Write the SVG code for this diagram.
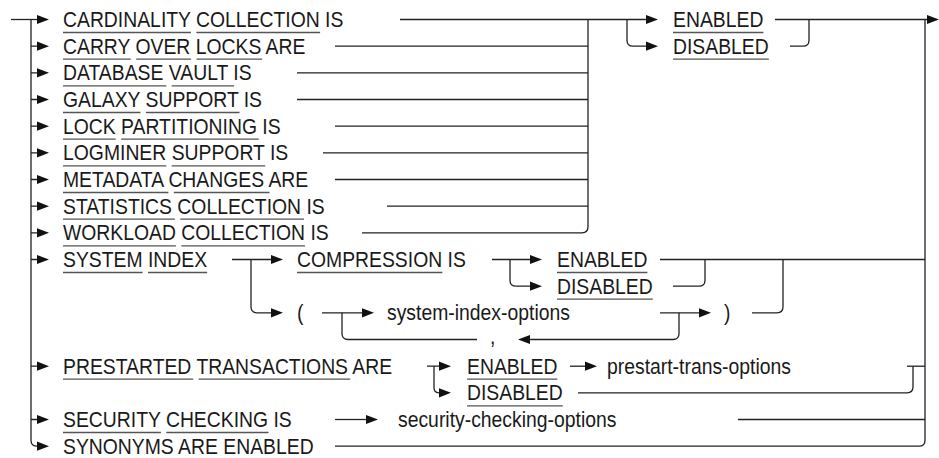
<svg xmlns="http://www.w3.org/2000/svg" xmlns:xlink="http://www.w3.org/1999/xlink" width="939" height="458" viewBox="0 0 939 458">
<style>
text{font-family:"Liberation Sans",Arial,sans-serif;font-size:22px;fill:#1a1a1a}
.c{fill:none;stroke:#222;stroke-width:1.3}
.u{stroke:#555;stroke-width:1.3}
.ah{fill:#111}
</style>
<defs>
<path id="ar" d="M0,-4.6 L12,0 L0,4.6 Z"/>
<path id="al" d="M12,-4.6 L0,0 L12,4.6 Z"/>
</defs>
<rect width="939" height="458" fill="#fff"/>
<g id="connectors">
<path class="c" d="M11,19.5 H37"/>
<path class="c" d="M31,19.5 V440.2 Q31,446.2 37,446.2"/>
<path class="c" d="M31,46.2 H37 M31,72.8 H37 M31,99.5 H37 M31,126.2 H37 M31,152.8 H37 M31,179.5 H37 M31,206.2 H37 M31,232.8 H37 M31,259.5 H37 M31,366.2 H37 M31,419.5 H37"/>
<path class="c" d="M400,19.5 H646 M335,46.2 H588 M297,72.8 H588 M297,99.5 H588 M335,126.2 H588 M323,152.8 H588 M335,179.5 H588 M387,206.2 H588 M362,232.8 H582 Q588,232.8 588,226.8 V19.5"/>
<path class="c" d="M627,19.5 V40.2 Q627,46.2 633,46.2 H646"/>
<path class="c" d="M775,19.5 H927"/>
<path class="c" d="M790,46.2 H803 Q809,46.2 809,40.2 V19.5"/>
<path class="c" d="M925,19.5 V440.2 Q925,446.2 919,446.2 H335"/>
<path class="c" d="M232,259.5 H271 M251,259.5 V306.8 Q251,312.8 257,312.8 H271"/>
<path class="c" d="M492,259.5 H530 M510,259.5 V280.2 Q510,286.2 516,286.2 H530"/>
<path class="c" d="M660,259.5 H925"/>
<path class="c" d="M673,286.2 H699 Q705,286.2 705,280.2 V259.5"/>
<path class="c" d="M322,312.8 H362"/>
<path class="c" d="M679,312.8 V333.5 Q679,339.5 673,339.5 H530 M477,339.5 H348 Q342,339.5 342,333.5 V312.8"/>
<path class="c" d="M660,312.8 H699"/>
<path class="c" d="M752,312.8 H777 Q783,312.8 783,306.8 V259.5"/>
<path class="c" d="M427,366.2 H439 M434,366.2 V387.8 Q434,392.8 439,392.8"/>
<path class="c" d="M570,366.2 H585"/>
<path class="c" d="M907,366.2 H925"/>
<path class="c" d="M578,392.8 H907 Q913,392.8 913,386.8 V366.2"/>
<path class="c" d="M335,419.5 H366"/>
<path class="c" d="M738,419.5 H925"/>
<g class="ah">
<use xlink:href="#ar" x="37" y="19.5"/>
<use xlink:href="#ar" x="37" y="46.2"/>
<use xlink:href="#ar" x="37" y="72.8"/>
<use xlink:href="#ar" x="37" y="99.5"/>
<use xlink:href="#ar" x="37" y="126.2"/>
<use xlink:href="#ar" x="37" y="152.8"/>
<use xlink:href="#ar" x="37" y="179.5"/>
<use xlink:href="#ar" x="37" y="206.2"/>
<use xlink:href="#ar" x="37" y="232.8"/>
<use xlink:href="#ar" x="37" y="259.5"/>
<use xlink:href="#ar" x="37" y="366.2"/>
<use xlink:href="#ar" x="37" y="419.5"/>
<use xlink:href="#ar" x="37" y="446.2"/>
<use xlink:href="#ar" x="646" y="19.5"/>
<use xlink:href="#ar" x="646" y="46.2"/>
<use xlink:href="#ar" x="927" y="19.5"/>
<use xlink:href="#ar" x="271" y="259.5"/>
<use xlink:href="#ar" x="271" y="312.8"/>
<use xlink:href="#ar" x="530" y="259.5"/>
<use xlink:href="#ar" x="530" y="286.2"/>
<use xlink:href="#ar" x="362" y="312.8"/>
<use xlink:href="#ar" x="699" y="312.8"/>
<use xlink:href="#al" x="518" y="339.5"/>
<use xlink:href="#ar" x="439" y="366.2"/>
<use xlink:href="#ar" x="439" y="392.8"/>
<use xlink:href="#ar" x="585" y="366.2"/>
<use xlink:href="#ar" x="366" y="419.5"/>
</g>
</g>
<g id="n-cardinality"><text transform="translate(63,27) scale(0.88,1)">CARDINALITY COLLECTION IS</text><path class="u" d="M63,32.5 H191 M196.4,32.5 H320.1"/></g>
<g id="n-carry"><text transform="translate(63,53.7) scale(0.88,1)">CARRY OVER LOCKS ARE</text><path class="u" d="M63,59.2 H130.8 M136.2,59.2 H191.1 M196.5,59.2 H262.1"/></g>
<g id="n-vault"><text transform="translate(63,80.3) scale(0.88,1)">DATABASE VAULT IS</text><path class="u" d="M63,85.8 H166.3 M171.7,85.8 H234.1"/></g>
<g id="n-galaxy"><text transform="translate(63,107) scale(0.88,1)">GALAXY SUPPORT IS</text><path class="u" d="M63,112.5 H140.5 M145.9,112.5 H239.5"/></g>
<g id="n-lockpart"><text transform="translate(63,133.7) scale(0.88,1)">LOCK PARTITIONING IS</text><path class="u" d="M63,139.2 H115.7 M121.1,139.2 H258.8"/></g>
<g id="n-logminer"><text transform="translate(63,160.3) scale(0.88,1)">LOGMINER SUPPORT IS</text><path class="u" d="M63,165.8 H166.3 M171.7,165.8 H265.3"/></g>
<g id="n-metadata"><text transform="translate(63,187) scale(0.88,1)">METADATA CHANGES ARE</text><path class="u" d="M63,192.5 H168.4 M173.8,192.5 H269.5"/></g>
<g id="n-statistics"><text transform="translate(63,213.7) scale(0.88,1)">STATISTICS COLLECTION IS</text><path class="u" d="M63,219.2 H174.9 M180.3,219.2 H304"/></g>
<g id="n-workload"><text transform="translate(63,240.3) scale(0.88,1)">WORKLOAD COLLECTION IS</text><path class="u" d="M63,245.8 H175.9 M181.3,245.8 H305"/></g>
<g id="n-enabled1"><text transform="translate(673,27) scale(0.88,1)">ENABLED</text><path class="u" d="M673,32.5 H763.4"/></g>
<g id="n-disabled1"><text transform="translate(673,53.7) scale(0.88,1)">DISABLED</text><path class="u" d="M673,59.2 H768.8"/></g>
<g id="n-sysindex"><text transform="translate(63,267) scale(0.88,1)">SYSTEM INDEX</text><path class="u" d="M63,272.5 H142.6 M148,272.5 H207.2"/></g>
<g id="n-compression"><text transform="translate(297,267) scale(0.88,1)">COMPRESSION IS</text><path class="u" d="M297,272.5 H442.3"/></g>
<g id="n-enabled2"><text transform="translate(557,267) scale(0.88,1)">ENABLED</text><path class="u" d="M557,272.5 H647.4"/></g>
<g id="n-disabled2"><text transform="translate(557,293.7) scale(0.88,1)">DISABLED</text><path class="u" d="M557,299.2 H652.8"/></g>
<g id="n-lparen"><text transform="translate(297,320.3) scale(0.88,1)">(</text></g>
<g id="n-sysopts"><text transform="translate(387,320.3) scale(0.88,1)">system-index-options</text></g>
<g id="n-rparen"><text transform="translate(724,320.3) scale(0.88,1)">)</text></g>
<g id="n-comma"><text transform="translate(490,344) scale(0.88,1)">,</text></g>
<g id="n-prestarted"><text transform="translate(63,373.7) scale(0.88,1)">PRESTARTED TRANSACTIONS ARE</text><path class="u" d="M63,379.2 H193.2 M198.6,379.2 H350.3"/></g>
<g id="n-enabled3"><text transform="translate(467,373.7) scale(0.88,1)">ENABLED</text><path class="u" d="M467,379.2 H557.4"/></g>
<g id="n-disabled3"><text transform="translate(467,400.3) scale(0.88,1)">DISABLED</text><path class="u" d="M467,405.8 H562.8"/></g>
<g id="n-prestartopts"><text transform="translate(607,373.7) scale(0.88,1)">prestart-trans-options</text></g>
<g id="n-security"><text transform="translate(63,427) scale(0.88,1)">SECURITY CHECKING IS</text><path class="u" d="M63,432.5 H160.9 M166.3,432.5 H268.5"/></g>
<g id="n-secopts"><text transform="translate(398,427) scale(0.88,1)">security-checking-options</text></g>
<g id="n-synonyms"><text transform="translate(63,453.7) scale(0.88,1)">SYNONYMS ARE ENABLED</text></g>
</svg>
